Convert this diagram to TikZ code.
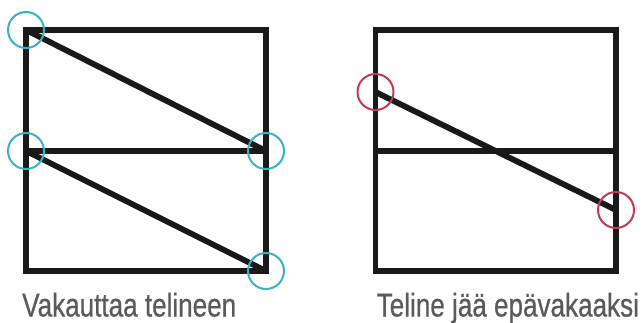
\documentclass[tikz,border=0pt]{standalone}
\usepackage{fontspec}
\setmainfont{Liberation Sans}[FakeStretch=0.79, FakeBold=0.6]
\definecolor{ringblue}{HTML}{3AAFC8}
\definecolor{ringred}{HTML}{C23A52}
\definecolor{captiongray}{HTML}{5A5A5A}
\begin{document}
\begin{tikzpicture}[x=1pt,y=-1pt,
  frame/.style={line width=5.8pt, line join=miter, black!90},
  brace/.style={line width=5.8pt, black!90},
  ring/.style={circle, draw, line width=2pt, minimum size=36pt, inner sep=0pt},
  caption/.style={anchor=base west, inner sep=0pt, text=captiongray, font=\fontsize{33}{36}\selectfont}]
\useasboundingbox (0,0) rectangle (644,322);
% left frame
\coordinate (LTL) at (26,30);
\coordinate (LTR) at (266,30);
\coordinate (LML) at (26,151);
\coordinate (LMR) at (266,151);
\coordinate (LBL) at (26,271);
\coordinate (LBR) at (266,271);
\draw[frame] (LTL) rectangle (LBR);
\draw[frame] (LML) -- (LMR);
\draw[brace] (LTL) -- (LMR);
\draw[brace] (LML) -- (LBR);
\node[ring, draw=ringblue] (c1) at (LTL) {};
\node[ring, draw=ringblue] (c2) at (LML) {};
\node[ring, draw=ringblue] (c3) at (LMR) {};
\node[ring, draw=ringblue] (c4) at (LBR) {};
\node[caption] (t1) at (22,316.5) {Vakauttaa telineen};
% right frame
\coordinate (RTL) at (375.5,30);
\coordinate (RML) at (375.5,151);
\coordinate (RMR) at (616,151);
\coordinate (RBR) at (616,271);
\coordinate (RA) at (375.5,92);
\coordinate (RB) at (616,210);
\draw[frame] (RTL) rectangle (RBR);
\draw[frame] (RML) -- (RMR);
\draw[brace] (RA) -- (RB);
\node[ring, draw=ringred] (r1) at (RA) {};
\node[ring, draw=ringred] (r2) at (RB) {};
\node[caption] (t2) at (376.5,316.5) {Teline jää epävakaaksi};
\end{tikzpicture}
\end{document}
